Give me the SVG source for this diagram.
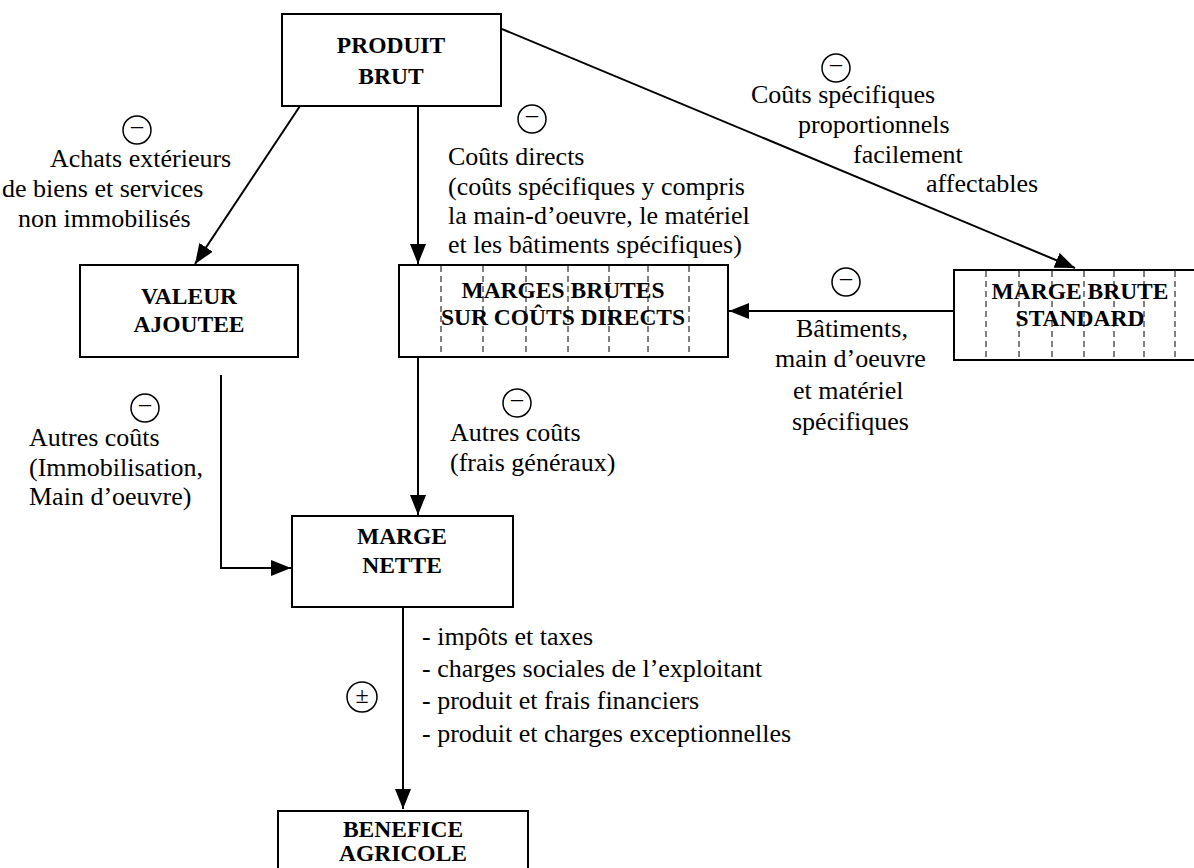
<svg xmlns="http://www.w3.org/2000/svg" width="1194" height="868" viewBox="0 0 1194 868">
<defs>
<style>
.box{fill:#fff;stroke:#000;stroke-width:2}
.dash{stroke:#000;stroke-width:1;stroke-dasharray:6 4}
.b{font-family:"Liberation Serif","Times New Roman",serif;font-weight:bold;font-size:23.5px;text-anchor:middle;fill:#000}
.t{font-family:"Liberation Serif","Times New Roman",serif;font-size:26px;fill:#000}
.c{fill:none;stroke:#000;stroke-width:2}
.ci{fill:#fff;stroke:#000;stroke-width:1.5}
.sg{font-family:"Liberation Serif","Times New Roman",serif;font-size:24px;text-anchor:middle;fill:#000}
</style>
<marker id="ah" markerUnits="userSpaceOnUse" markerWidth="20" markerHeight="16" refX="20" refY="8" orient="auto">
<path d="M0,0 L20,8 L0,16 z" fill="#000"/>
</marker>
</defs>

<g id="connectors">
<line class="c" x1="300" y1="106" x2="195" y2="264" marker-end="url(#ah)"/>
<line class="c" x1="418" y1="106" x2="418" y2="264" marker-end="url(#ah)"/>
<line class="c" x1="502" y1="29" x2="1075" y2="268" marker-end="url(#ah)"/>
<line class="c" x1="954" y1="311" x2="729" y2="311" marker-end="url(#ah)"/>
<line class="c" x1="418" y1="357" x2="418" y2="515" marker-end="url(#ah)"/>
<polyline class="c" points="221,375 221,568 291,568" marker-end="url(#ah)"/>
<line class="c" x1="403" y1="607" x2="403" y2="809" marker-end="url(#ah)"/>
</g>

<g id="produit-brut">
<rect class="box" x="282" y="14" width="219" height="92"/>
<text class="b" x="391" y="53">PRODUIT</text>
<text class="b" x="391" y="84">BRUT</text>
</g>

<g id="valeur-ajoutee">
<rect class="box" x="80" y="265" width="218" height="92"/>
<text class="b" x="189" y="304">VALEUR</text>
<text class="b" x="189" y="332">AJOUTEE</text>
</g>

<g id="marges-brutes">
<rect class="box" x="399" y="265" width="329" height="92"/>
<line class="dash" x1="441" y1="266" x2="441" y2="356"/>
<line class="dash" x1="483" y1="266" x2="483" y2="356"/>
<line class="dash" x1="526" y1="266" x2="526" y2="356"/>
<line class="dash" x1="568" y1="266" x2="568" y2="356"/>
<line class="dash" x1="609" y1="266" x2="609" y2="356"/>
<line class="dash" x1="648" y1="266" x2="648" y2="356"/>
<line class="dash" x1="689" y1="266" x2="689" y2="356"/>
<text class="b" x="563" y="298">MARGES BRUTES</text>
<text class="b" x="563" y="325">SUR COÛTS DIRECTS</text>
</g>

<g id="marge-brute-standard">
<rect class="box" x="954" y="270" width="260" height="90"/>
<line class="dash" x1="986" y1="271" x2="986" y2="359"/>
<line class="dash" x1="1019" y1="271" x2="1019" y2="359"/>
<line class="dash" x1="1052" y1="271" x2="1052" y2="359"/>
<line class="dash" x1="1084" y1="271" x2="1084" y2="359"/>
<line class="dash" x1="1114" y1="271" x2="1114" y2="359"/>
<line class="dash" x1="1144" y1="271" x2="1144" y2="359"/>
<line class="dash" x1="1175" y1="271" x2="1175" y2="359"/>
<text class="b" x="1080" y="299">MARGE BRUTE</text>
<text class="b" x="1080" y="326">STANDARD</text>
</g>

<g id="marge-nette">
<rect class="box" x="292" y="516" width="221" height="91"/>
<text class="b" x="402" y="544">MARGE</text>
<text class="b" x="402" y="573">NETTE</text>
</g>

<g id="benefice-agricole">
<rect class="box" x="278" y="811" width="250" height="80"/>
<text class="b" x="403" y="837">BENEFICE</text>
<text class="b" x="403" y="861">AGRICOLE</text>
</g>

<g id="labels">
<circle class="ci" cx="137" cy="130" r="14"/><text class="sg" x="137" y="133">–</text>
<text class="t" x="50" y="167">Achats extérieurs</text>
<text class="t" x="2" y="197">de biens et services</text>
<text class="t" x="18" y="227">non immobilisés</text>

<circle class="ci" cx="532" cy="119" r="14"/><text class="sg" x="532" y="122">–</text>
<text class="t" x="448" y="165">Coûts directs</text>
<text class="t" x="448" y="195">(coûts spécifiques y compris</text>
<text class="t" x="448" y="224">la main-d’oeuvre, le matériel</text>
<text class="t" x="448" y="253">et les bâtiments spécifiques)</text>

<circle class="ci" cx="836" cy="68" r="14"/><text class="sg" x="836" y="71">–</text>
<text class="t" x="751" y="103">Coûts spécifiques</text>
<text class="t" x="798" y="133">proportionnels</text>
<text class="t" x="853" y="163">facilement</text>
<text class="t" x="926" y="192">affectables</text>

<circle class="ci" cx="846" cy="282" r="14"/><text class="sg" x="846" y="285">–</text>
<text class="t" x="796" y="337">Bâtiments,</text>
<text class="t" x="775" y="367">main d’oeuvre</text>
<text class="t" x="793" y="399">et matériel</text>
<text class="t" x="792" y="430">spécifiques</text>

<circle class="ci" cx="145" cy="408" r="14"/><text class="sg" x="145" y="411">–</text>
<text class="t" x="29" y="446">Autres coûts</text>
<text class="t" x="29" y="476">(Immobilisation,</text>
<text class="t" x="29" y="505">Main d’oeuvre)</text>

<circle class="ci" cx="517" cy="403" r="14"/><text class="sg" x="517" y="406">–</text>
<text class="t" x="450" y="441">Autres coûts</text>
<text class="t" x="450" y="471">(frais généraux)</text>

<circle class="ci" cx="362" cy="697" r="15"/><text class="sg" x="362" y="703">±</text>
<text class="t" x="422" y="645">- impôts et taxes</text>
<text class="t" x="422" y="677">- charges sociales de l’exploitant</text>
<text class="t" x="422" y="709">- produit et frais financiers</text>
<text class="t" x="422" y="742">- produit et charges exceptionnelles</text>
</g>
</svg>
